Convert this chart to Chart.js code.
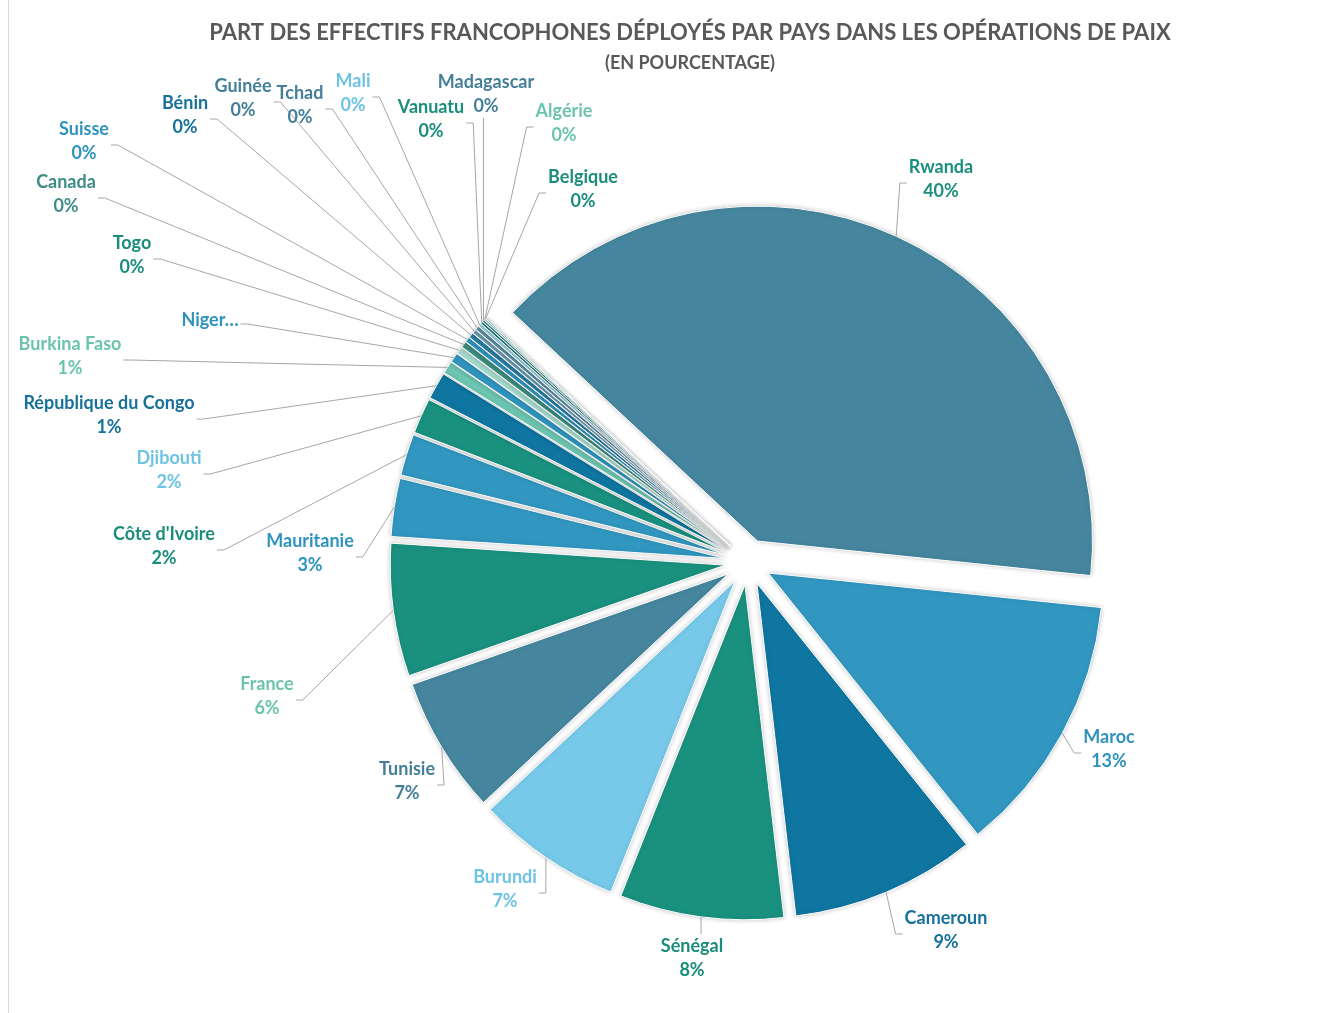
<!DOCTYPE html>
<html lang="fr">
<head>
<meta charset="utf-8">
<title>Part des effectifs francophones déployés</title>
<script src="https://cdn.jsdelivr.net/npm/chart.js@4.4.1/dist/chart.umd.min.js"></script>
<style>
  html, body { margin: 0; padding: 0; background: #fff; }
  #wrap { position: relative; width: 1337px; height: 1013px; }
</style>
</head>
<body>
<div id="wrap"><canvas id="pieChart"></canvas></div>
<script>
const chartTitle = 'PART DES EFFECTIFS FRANCOPHONES DÉPLOYÉS PAR PAYS DANS LES OPÉRATIONS DE PAIX';
const chartSubtitle = '(EN POURCENTAGE)';

const countries = ['Rwanda', 'Maroc', 'Cameroun', 'Sénégal', 'Burundi', 'Tunisie', 'France', 'Mauritanie',
  "Côte d'Ivoire", 'Djibouti', 'République du Congo', 'Burkina Faso', 'Niger…', 'Togo', 'Canada', 'Suisse',
  'Bénin', 'Guinée', 'Tchad', 'Mali', 'Vanuatu', 'Madagascar', 'Algérie', 'Belgique'];
const shares = [39.7, 12.6, 8.9, 7.9, 7.0, 6.6, 6.4, 2.8,
  2.0, 1.7, 1.3, 0.6, 0.45, 0.35, 0.3, 0.25,
  0.25, 0.2, 0.2, 0.15, 0.12, 0.1, 0.08, 0.05];

const sliceColors = ['#45869e', '#3197c1', '#0f76a1', '#1a917f', '#77c9e9', '#45869e', '#1a917f', '#3197c1',
  '#3197c1', '#1a917f', '#0f76a1', '#6dc6b1', '#3197c1', '#a8ddd0', '#3e8f80', '#3197c1',
  '#2a80a8', '#6e9fb3', '#5d93a8', '#9dd5ee', '#1a917f', '#45869e', '#8fd2c2', '#1a917f'];
const labelColors = ['#1b8f7f', '#2e93bd', '#16719b', '#1a8d7c', '#6ec3e5', '#447f99', '#6cc4ae', '#2e93bd',
  '#1a8d7c', '#6ec3e5', '#16719b', '#6cc4ae', '#2e93bd', '#1a8d7c', '#3e8c86', '#2e93bd',
  '#16719b', '#447f99', '#447f99', '#6ec3e5', '#1a8d7c', '#447f99', '#6cc4ae', '#1a8d7c'];

// where each data label sits, relative to the pie centre (px)
const labelOffsets = [[193, -383], [361, 187], [198, 368], [-56, 396], [-243, 327], [-341, 219], [-481, 134], [-438, -9],
  [-584, -16], [-579, -92], [-639, -147], [-678, -206], [-538, -242], [-616, -307], [-682, -368], [-664, -421],
  [-563, -447], [-505, -464], [-448, -457], [-395, -469], [-317, -443], [-262, -468], [-184, -439], [-165, -373]];

const RADIUS = 335;
const SHIFT = 23;      // explode distance of every slice, px
const LINE = 24;
const total = shares.reduce((a, b) => a + b, 0);

function pieCentre(chart) {
  const ca = chart.chartArea;
  return [(ca.left + ca.right) / 2, (ca.top + ca.bottom) / 2];
}

const pieLabels = {
  id: 'pieLabels',
  beforeDraw(chart) {
    const ctx = chart.ctx;
    ctx.save();
    ctx.strokeStyle = '#d9d9d9';
    ctx.lineWidth = 1;
    ctx.beginPath();
    ctx.moveTo(8.5, 0);
    ctx.lineTo(8.5, chart.height);
    ctx.stroke();
    ctx.fillStyle = '#595959';
    ctx.textAlign = 'center';
    ctx.textBaseline = 'middle';
    ctx.font = 'bold 22px Lato';
    ctx.fillText(chartTitle, 690, 33);
    ctx.font = 'bold 18px Lato';
    ctx.fillText(chartSubtitle, 690, 63);
    ctx.restore();
  },
  beforeDatasetsDraw(chart) {
    // explode every slice along its own middle angle
    const [cx0, cy0] = pieCentre(chart);
    chart.getDatasetMeta(0).data.forEach(arc => {
      const mid = (arc.startAngle + arc.endAngle) / 2;
      arc.x = cx0 + Math.cos(mid) * SHIFT;
      arc.y = cy0 + Math.sin(mid) * SHIFT;
    });
    chart.ctx.save();
    chart.ctx.shadowColor = 'rgba(0,0,0,0.22)';
    chart.ctx.shadowBlur = 5;
  },
  afterDatasetsDraw(chart) {
    const ctx = chart.ctx;
    ctx.restore();
    const [cx0, cy0] = pieCentre(chart);
    const meta = chart.getDatasetMeta(0);
    ctx.save();
    ctx.font = 'bold 18px Lato';
    ctx.textAlign = 'center';
    ctx.textBaseline = 'middle';
    meta.data.forEach((arc, i) => {
      const mid = (arc.startAngle + arc.endAngle) / 2;
      const px = arc.x + Math.cos(mid) * arc.outerRadius;
      const py = arc.y + Math.sin(mid) * arc.outerRadius;
      const cx = cx0 + labelOffsets[i][0];
      const cy = cy0 + labelOffsets[i][1];
      const name = countries[i];
      const lines = name.endsWith('…') ? [name] : [name, Math.round(shares[i] / total * 100) + '%'];
      const w = Math.max(...lines.map(t => ctx.measureText(t).width));
      const h = lines.length * LINE;
      const l = cx - w / 2 - 2, r = cx + w / 2 + 2, t = cy - h / 2, b = cy + h / 2;

      ctx.strokeStyle = '#a6a6a6';
      ctx.lineWidth = 1;
      ctx.beginPath();
      ctx.moveTo(px, py);
      if (px < l) {
        ctx.lineTo(l - 7, cy + 4);
        ctx.lineTo(l, cy + 4);
      } else if (px > r) {
        ctx.lineTo(r + 7, cy + 4);
        ctx.lineTo(r, cy + 4);
      } else if (py < t) {
        ctx.lineTo(px, t);
      } else {
        ctx.lineTo(px, b);
      }
      ctx.stroke();

      ctx.fillStyle = labelColors[i];
      lines.forEach((txt, k) => ctx.fillText(txt, cx, t + LINE * (k + 0.5)));
    });
    ctx.restore();
  }
};

new Chart(document.getElementById('pieChart'), {
  type: 'pie',
  data: {
    labels: countries,
    datasets: [{
      data: shares,
      backgroundColor: sliceColors,
      borderColor: '#ffffff',
      borderWidth: 1,
      hoverOffset: 0
    }]
  },
  options: {
    responsive: true,
    maintainAspectRatio: false,
    animation: false,
    events: [],
    rotation: -47,
    radius: RADIUS,
    layout: { padding: { left: 159, right: 0, top: 111, bottom: 0 } },
    plugins: {
      legend: { display: false },
      tooltip: { enabled: false }
    }
  },
  plugins: [pieLabels]
});
</script>
</body>
</html>
